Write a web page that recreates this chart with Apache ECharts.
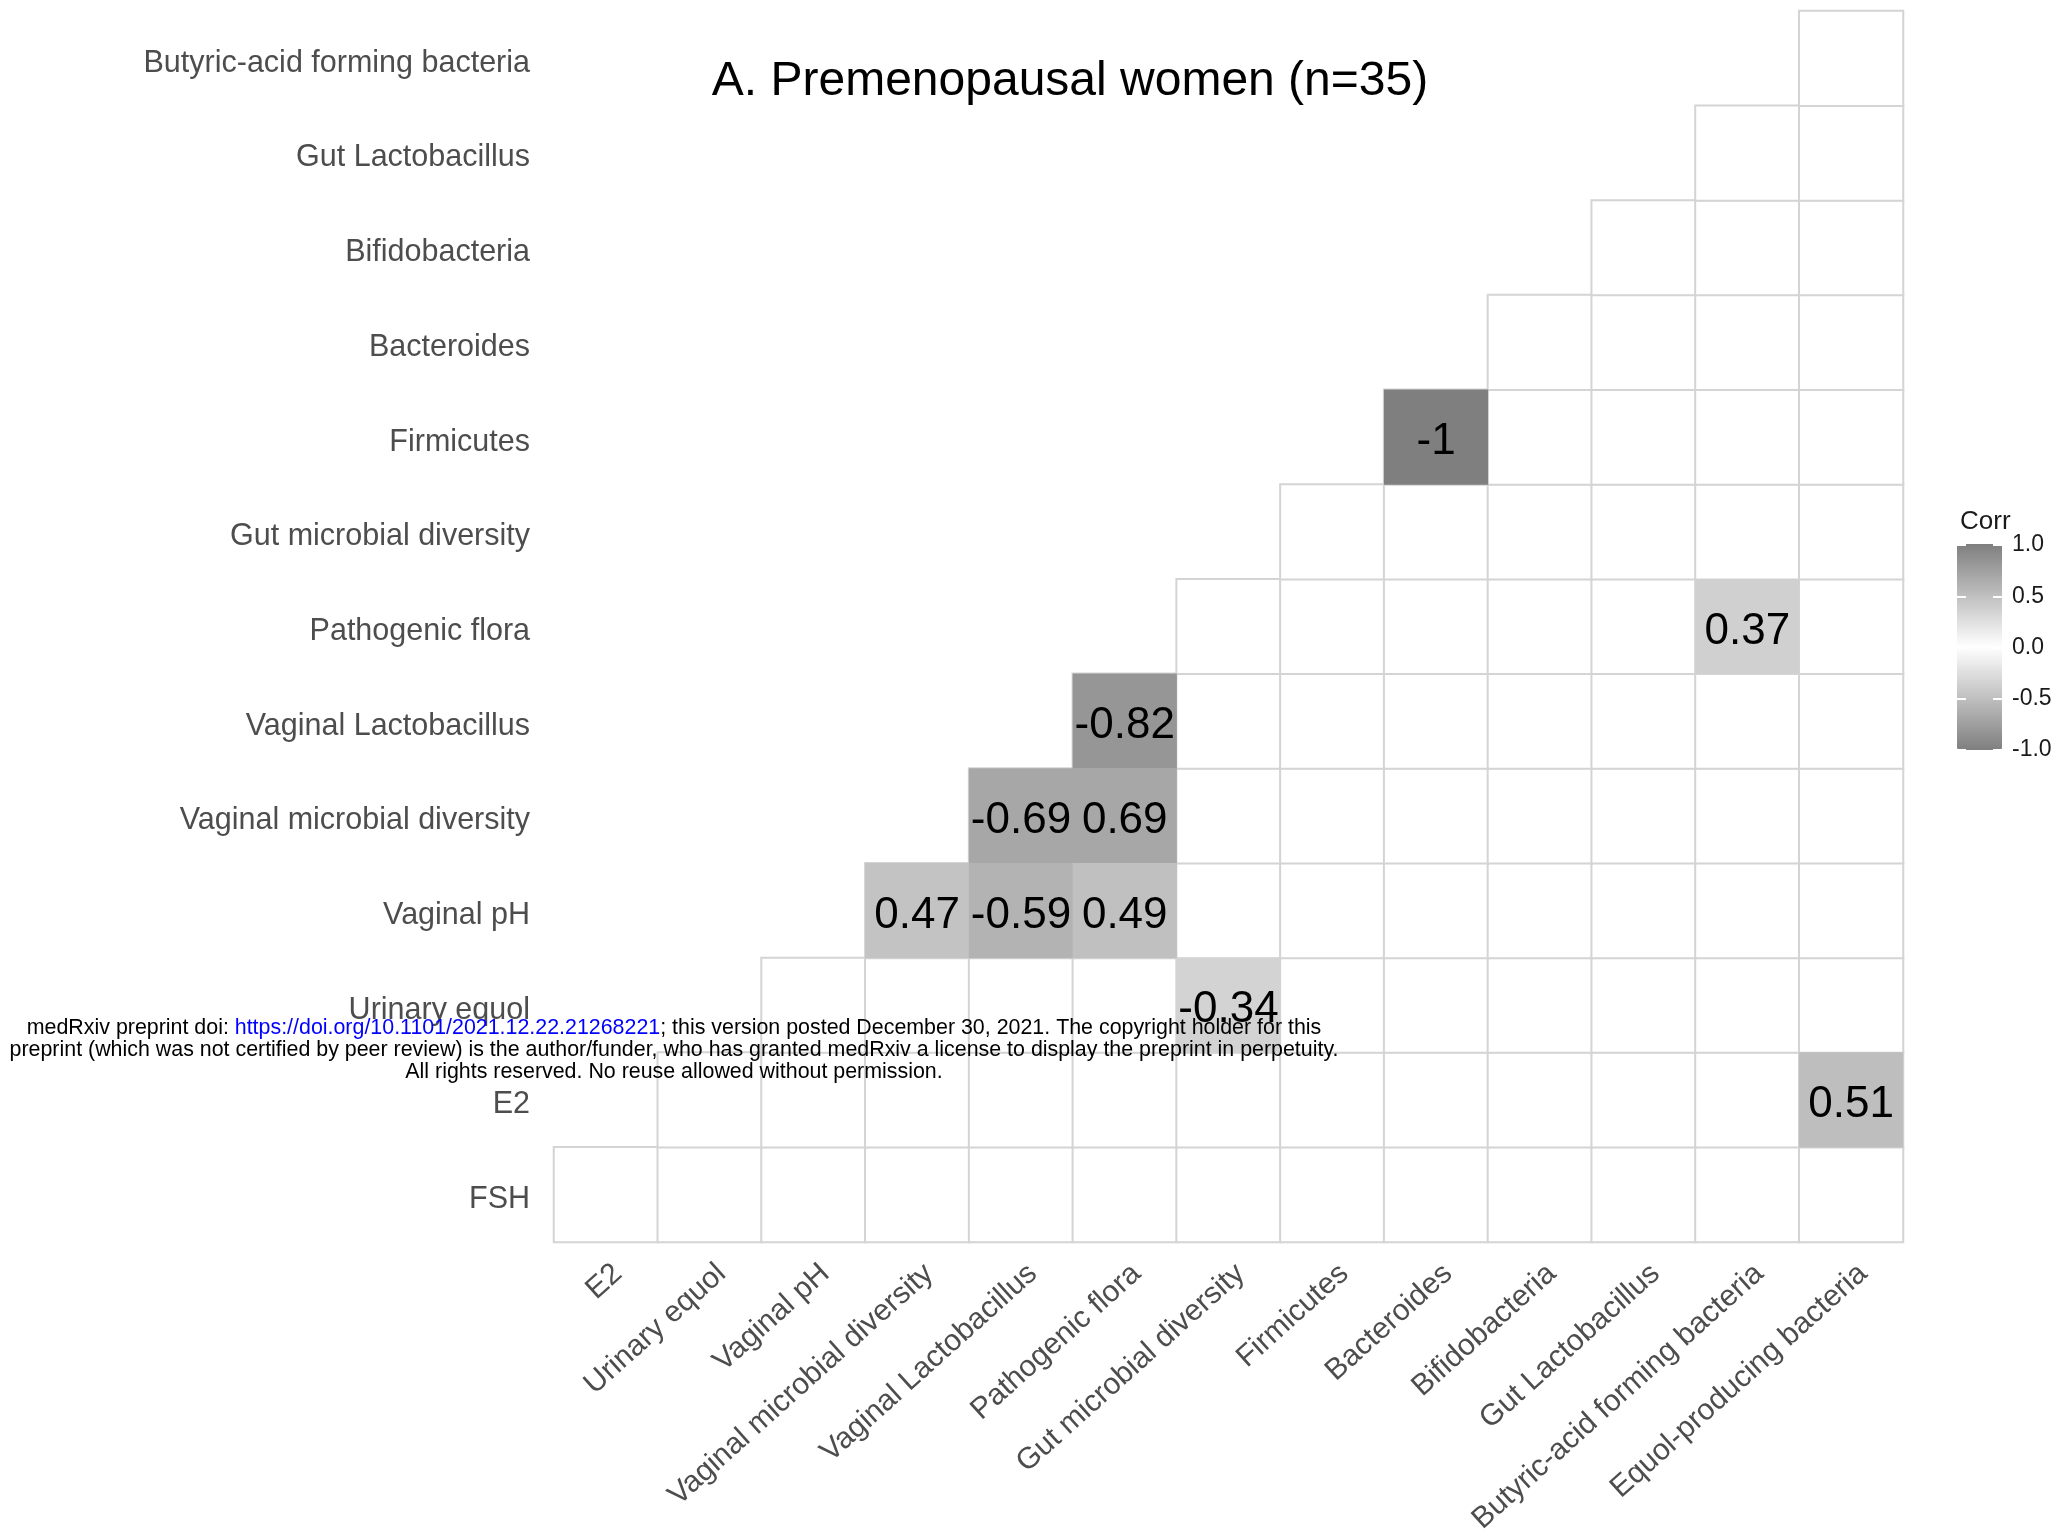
<!DOCTYPE html>
<html>
<head>
<meta charset="utf-8">
<script src="https://cdn.jsdelivr.net/npm/echarts@6/dist/echarts.min.js"></script>
<style>
html,body{margin:0;padding:0;background:#fff;}
#chart{width:2062px;height:1537px;}
</style>
</head>
<body>
<div id="chart"></div>
<script>
// Column variables (x axis)
var xLabels = ['E2', 'Urinary equol', 'Vaginal pH', 'Vaginal microbial diversity', 'Vaginal Lactobacillus',
  'Pathogenic flora', 'Gut microbial diversity', 'Firmicutes', 'Bacteroides', 'Bifidobacteria',
  'Gut Lactobacillus', 'Butyric-acid forming bacteria', 'Equol-producing bacteria'];
// Row variables (y axis, bottom to top)
var yLabels = ['FSH', 'E2', 'Urinary equol', 'Vaginal pH', 'Vaginal microbial diversity', 'Vaginal Lactobacillus',
  'Pathogenic flora', 'Gut microbial diversity', 'Firmicutes', 'Bacteroides', 'Bifidobacteria',
  'Gut Lactobacillus', 'Butyric-acid forming bacteria'];
// Significant correlations (labelled cells)
var cellX = ['Bacteroides', 'Butyric-acid forming bacteria', 'Pathogenic flora', 'Vaginal Lactobacillus',
  'Pathogenic flora', 'Vaginal microbial diversity', 'Vaginal Lactobacillus', 'Pathogenic flora',
  'Gut microbial diversity', 'Equol-producing bacteria'];
var cellY = ['Firmicutes', 'Pathogenic flora', 'Vaginal Lactobacillus', 'Vaginal microbial diversity',
  'Vaginal microbial diversity', 'Vaginal pH', 'Vaginal pH', 'Vaginal pH', 'Urinary equol', 'E2'];
var cellValue = [-1, 0.37, -0.82, -0.69, 0.69, 0.47, -0.59, 0.49, -0.34, 0.51];

var FONT = 'Liberation Sans';

// lower-triangle cells (structure of the correlation matrix)
var triCells = [];
for (var i = 0; i < yLabels.length; i++) {
  for (var j = i; j < xLabels.length; j++) {
    triCells.push([j, i, 0]);
  }
}
var sigCells = cellValue.map(function (v, k) {
  return [xLabels.indexOf(cellX[k]), yLabels.indexOf(cellY[k]), v];
});

var chart = echarts.init(document.getElementById('chart'), null, {renderer: 'canvas'});
var option = {
  backgroundColor: '#ffffff',
  animation: false,
  textStyle: {fontFamily: FONT},
  title: [
    {text: 'A. Premenopausal women (n=35)', left: 1065, top: 53, textAlign: 'center',
      textStyle: {fontSize: 48, fontWeight: 'normal', color: '#000', fontFamily: FONT}},
    {text: 'Corr', left: 1955, top: 504,
      textStyle: {fontSize: 26, fontWeight: 'normal', color: '#1a1a1a', fontFamily: FONT}}
  ],
  grid: [
    {left: 554, top: 11, width: 1349, height: 1231},
    {left: 566, top: 11, width: 1349, height: 1231},
    {left: 1957, top: 545, width: 45, height: 205}
  ],
  xAxis: [
    {type: 'category', data: xLabels, gridIndex: 0, axisLine: {show: false}, axisTick: {show: false},
      axisLabel: {show: false}, splitLine: {show: false}},
    {type: 'category', data: xLabels, gridIndex: 1, axisLine: {show: false}, axisTick: {show: false},
      splitLine: {show: false},
      axisLabel: {rotate: 42, margin: 44, interval: 0, fontSize: 30, color: '#4d4d4d', fontFamily: FONT}},
    {type: 'category', data: ['c'], gridIndex: 2, show: false}
  ],
  yAxis: [
    {type: 'category', data: yLabels, gridIndex: 0, axisLine: {show: false}, axisTick: {show: false},
      splitLine: {show: false},
      axisLabel: {margin: 24, interval: 0, fontSize: 30.5, color: '#4d4d4d', fontFamily: FONT,
        verticalAlign: 'top', lineHeight: 10}},
    {type: 'value', gridIndex: 1, show: false},
    {type: 'value', gridIndex: 2, min: -1, max: 1, interval: 0.5, position: 'right',
      axisLine: {show: false}, splitLine: {show: false}, z: 10,
      axisTick: {show: true, inside: true, length: 9, lineStyle: {color: '#ffffff', width: 2}},
      axisLabel: {margin: 10, fontSize: 23, color: '#1a1a1a', fontFamily: FONT,
        formatter: function (v) { return v.toFixed(1); }}},
    {type: 'value', gridIndex: 2, min: -1, max: 1, interval: 0.5, position: 'left',
      axisLine: {show: false}, splitLine: {show: false}, axisLabel: {show: false}, z: 10,
      axisTick: {show: true, inside: true, length: 9, lineStyle: {color: '#ffffff', width: 2}}}
  ],
  visualMap: {
    type: 'continuous', min: -1, max: 1, seriesIndex: 1, calculable: false,
    orient: 'vertical', left: 1957, top: 544, itemWidth: 45, itemHeight: 206, padding: 0,
    text: null, hoverLink: false,
    inRange: {color: ['#7f7f7f', '#ffffff', '#7f7f7f']}
  },
  series: [
    {type: 'heatmap', xAxisIndex: 0, yAxisIndex: 0, data: triCells, silent: true,
      itemStyle: {color: '#ffffff', borderColor: '#d4d4d4', borderWidth: 2},
      emphasis: {disabled: true}},
    {type: 'heatmap', xAxisIndex: 0, yAxisIndex: 0, data: sigCells, silent: true,
      itemStyle: {borderWidth: 0},
      emphasis: {disabled: true},
      label: {show: true, fontSize: 44, color: '#000', fontFamily: FONT, offset: [0, 5],
        formatter: function (p) { return String(p.value[2]); }}}
  ],
  graphic: [
    {type: 'text', z: 100, x: 674, y: 1028, style: {
      text: 'medRxiv preprint doi: {l|https://doi.org/10.1101/2021.12.22.21268221}; this version posted December 30, 2021. The copyright holder for this',
      align: 'center', verticalAlign: 'middle', font: '21.4px "Liberation Sans"', fill: '#000',
      rich: {l: {fill: '#0000ff', font: '21.4px "Liberation Sans"'}}}},
    {type: 'text', z: 100, x: 674, y: 1050, style: {
      text: 'preprint (which was not certified by peer review) is the author/funder, who has granted medRxiv a license to display the preprint in perpetuity.',
      align: 'center', verticalAlign: 'middle', font: '21.4px "Liberation Sans"', fill: '#000'}},
    {type: 'text', z: 100, x: 674, y: 1072, style: {
      text: 'All rights reserved. No reuse allowed without permission.',
      align: 'center', verticalAlign: 'middle', font: '21.4px "Liberation Sans"', fill: '#000'}}
  ]
};
chart.setOption(option);
</script>
</body>
</html>
